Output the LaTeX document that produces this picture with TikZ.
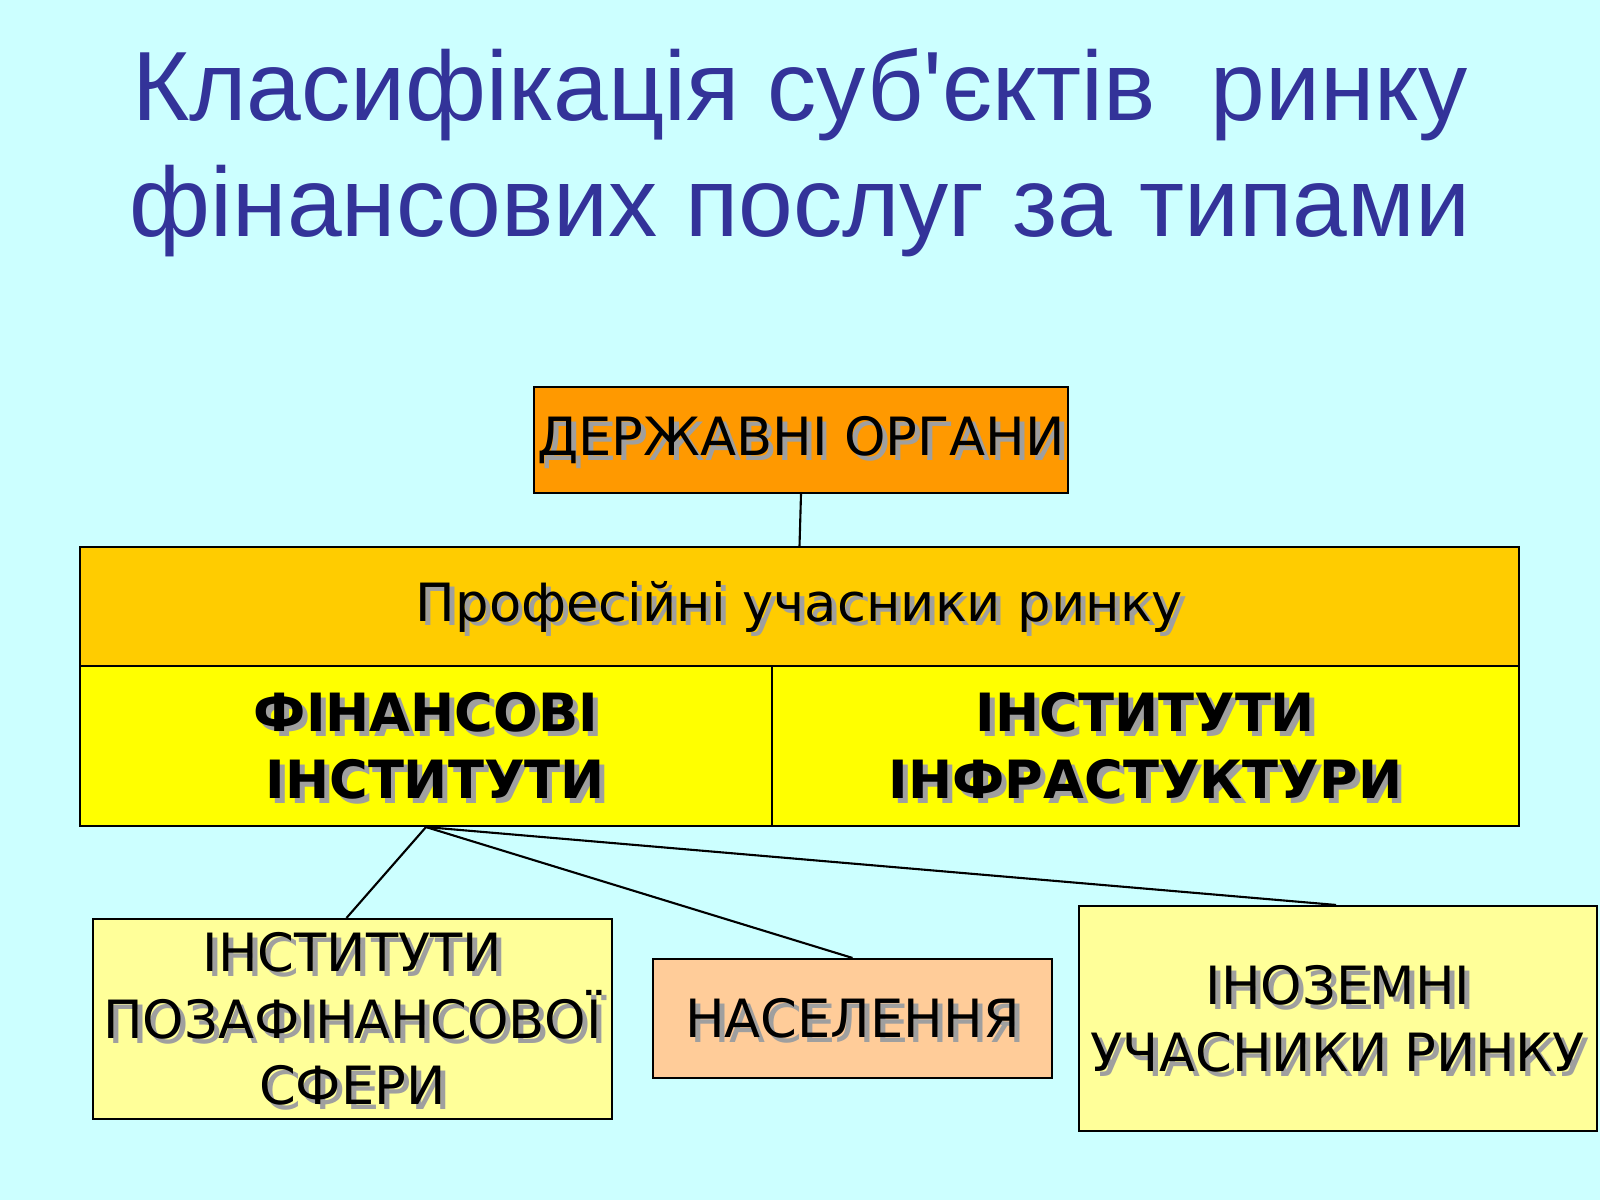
\documentclass[tikz,border=0pt]{standalone}
\usepackage{fontspec}
\setmainfont{DejaVu Sans}
\newfontfamily\titlefont{Liberation Sans}
\definecolor{bgcyan}{HTML}{CCFFFF}
\definecolor{titleblue}{HTML}{333399}
\definecolor{orangebox}{HTML}{FF9900}
\definecolor{goldbox}{HTML}{FFCC00}
\definecolor{yellowbox}{HTML}{FFFF00}
\definecolor{paleyellow}{HTML}{FFFF99}
\definecolor{peach}{HTML}{FFCC99}
\tikzset{
  box/.style={draw=black, line width=0.6pt, inner sep=0pt},
  boxtext/.style={inner sep=0pt, align=center, font=\fontsize{15}{19}\selectfont},
  boldtext/.style={boxtext, font=\bfseries\fontsize{15}{19}\selectfont},
  link/.style={draw=black, line width=0.6pt}
}
% text with a grey drop shadow, centred on a node
\newcommand{\shadowlabel}[3][boxtext]{%
  \node[#1, text=gray!75] at ([shift={(1.4pt,-1.4pt)}]#2.center) {#3};
  \node[#1] at (#2.center) {#3};}
\begin{document}
\begin{tikzpicture}
\fill[bgcyan] (0,0) rectangle (16,12);
\useasboundingbox (0,0) rectangle (16,12);
% title
\node[text=titleblue, align=center, font=\titlefont\fontsize{28}{33}\selectfont] (title) at (8,10.47) {Класифікація суб'єктів\ \ ринку\\фінансових послуг за типами};
% boxes
\node[box, fill=orangebox, minimum width=5.34cm, minimum height=1.06cm] (organs) at (8.01,7.60) {};
\node[box, fill=goldbox, minimum width=14.39cm, minimum height=1.19cm] (prof) at (7.995,5.935) {};
\node[box, fill=yellowbox, minimum width=6.92cm, minimum height=1.60cm] (fin) at (4.26,4.54) {};
\node[box, fill=yellowbox, minimum width=7.47cm, minimum height=1.60cm] (infra) at (11.455,4.54) {};
\node[box, fill=paleyellow, minimum width=5.19cm, minimum height=2.00cm] (nonfin) at (3.525,1.81) {};
\node[box, fill=peach, minimum width=3.99cm, minimum height=1.19cm] (people) at (8.525,1.815) {};
\node[box, fill=paleyellow, minimum width=5.18cm, minimum height=2.25cm] (foreign) at (13.38,1.815) {};
% labels
\shadowlabel{organs}{ДЕРЖАВНІ ОРГАНИ}
\shadowlabel{prof}{Професійні учасники ринку}
\shadowlabel[boldtext]{fin}{ФІНАНСОВІ\\ \ ІНСТИТУТИ}
\shadowlabel[boldtext]{infra}{ІНСТИТУТИ\\ІНФРАСТУКТУРИ}
\shadowlabel{nonfin}{ІНСТИТУТИ\\ПОЗАФІНАНСОВОЇ\\СФЕРИ}
\shadowlabel{people}{НАСЕЛЕННЯ}
\shadowlabel{foreign}{ІНОЗЕМНІ\\УЧАСНИКИ РИНКУ}
% connectors
\draw[link] (organs.south) -- (prof.north);
\draw[link] (fin.south) -- ([xshift=-0.06cm]nonfin.north);
\draw[link] (fin.south) -- (people.north);
\draw[link] (fin.south) -- ([xshift=-0.02cm]foreign.north);
\end{tikzpicture}
\end{document}
